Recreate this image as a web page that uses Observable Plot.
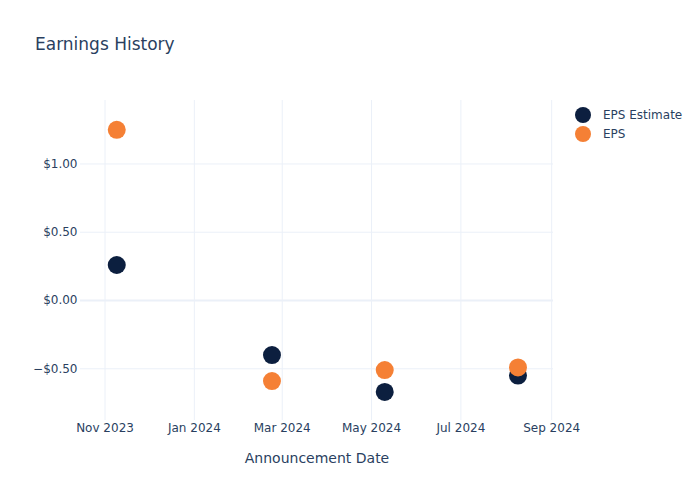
<!DOCTYPE html>
<html>
<head>
<meta charset="utf-8">
<script src="https://cdn.jsdelivr.net/npm/d3@7"></script>
<script src="https://cdn.jsdelivr.net/npm/@observablehq/plot@0.6"></script>
<style>
  html, body { margin: 0; padding: 0; background: #fff; }
  #wrap { position: relative; width: 700px; height: 500px; font-family: "DejaVu Sans", Verdana, sans-serif; color: #2a3f5f; }
  #title { position: absolute; left: 35px; top: 34px; font-size: 17px; color: #2a3f5f; }
  #legend { position: absolute; left: 575px; top: 105px; font-size: 12px; }
  .li { display: flex; align-items: center; height: 19px; }
  .sw { width: 16px; height: 16px; border-radius: 50%; margin-right: 12px; }
  svg [aria-label="x-axis label"] text { font-size: 14px; }
</style>
</head>
<body>
<div id="wrap">
  <div id="chart"></div>
  <div id="title">Earnings History</div>
  <div id="legend"></div>
</div>
<script>
const dates = ["2023-11-09", "2024-02-23", "2024-05-10", "2024-08-09"];
const epsEstimate = [0.26, -0.40, -0.67, -0.55];
const eps = [1.25, -0.59, -0.51, -0.49];
const seriesNames = ["EPS Estimate", "EPS"];
const seriesColors = ["#0c1f3f", "#f58035"];

const rows = [];
seriesNames.forEach((name, s) => {
  const vals = s === 0 ? epsEstimate : eps;
  dates.forEach((d, i) => rows.push({date: new Date(d), value: vals[i], series: name}));
});

const money = v => (v < 0 ? "\u2212$" : "$") + Math.abs(v).toFixed(2);

const chart = Plot.plot({
  width: 700,
  height: 500,
  marginLeft: 80,
  marginRight: 147,
  marginTop: 100,
  marginBottom: 80,
  style: {fontFamily: "DejaVu Sans, Verdana, sans-serif", fontSize: "12px", color: "#2a3f5f", background: "#fff"},
  x: {type: "utc", domain: [new Date("2023-10-15T06:00Z"), new Date("2024-09-02T06:00Z")]},
  y: {domain: [-0.879, 1.465]},
  color: {domain: seriesNames, range: seriesColors},
  marks: [
    Plot.gridX({ticks: d3.utcMonth.every(2), stroke: "#ebf0f8", strokeOpacity: 1}),
    Plot.gridY({ticks: [-0.5, 0, 0.5, 1], stroke: "#ebf0f8", strokeOpacity: 1}),
    Plot.ruleY([0], {stroke: "#ebf0f8", strokeWidth: 2}),
    Plot.axisX({ticks: d3.utcMonth.every(2), tickFormat: d3.utcFormat("%b %Y"), tickSize: 0, tickPadding: 3,
      label: "Announcement Date", labelAnchor: "center", labelArrow: "none", labelOffset: 42}),
    Plot.axisY({ticks: [-0.5, 0, 0.5, 1], tickFormat: money, tickSize: 0, tickPadding: 3, label: null}),
    Plot.dot(rows, {x: "date", y: "value", fill: "series", r: 9, stroke: null})
  ]
});
document.getElementById("chart").appendChild(chart);

const legend = document.getElementById("legend");
seriesNames.forEach((n, i) => {
  const li = document.createElement("div");
  li.className = "li";
  li.innerHTML = `<div class="sw" style="background:${seriesColors[i]}"></div><span>${n}</span>`;
  legend.appendChild(li);
});
</script>
</body>
</html>
